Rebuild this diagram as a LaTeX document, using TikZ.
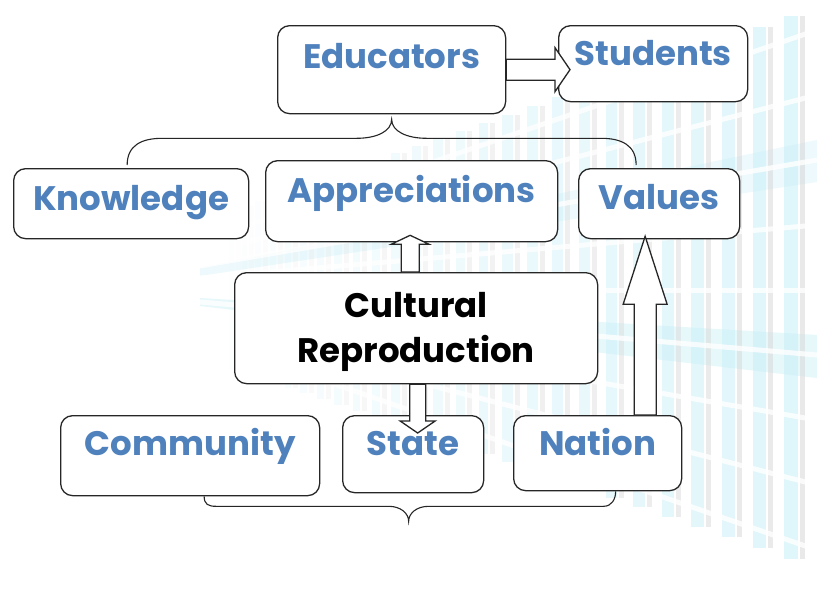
\documentclass[tikz,border=0pt]{standalone}
\usepackage{fontspec}
\setmainfont{Poppins}
\usetikzlibrary{calc}
\definecolor{txtblue}{HTML}{4F81BD}
\definecolor{bgcyan}{HTML}{C4EEF7}
\definecolor{bggray}{HTML}{D6D6D6}
\tikzset{
  box/.style={draw=black!85, line width=1.3pt, rounded corners=12pt, fill=white, inner sep=0pt,
    anchor=north west, text=txtblue, font=\fontsize{34}{45}\selectfont\bfseries},
  blockline/.style={draw=black!85, line width=1.3pt, fill=white, line join=miter},
  brace/.style={draw=black!85, line width=1.1pt},
}
% start, end, shaft half width, head half width, head length
\newcommand\blockarrow[5]{%
  \coordinate (hb) at ($(#2)!#5!(#1)$);
  \path[blockline] ($(#1)!#3!90:(#2)$) -- ($(hb)!#3!90:(#2)$) -- ($(hb)!#4!90:(#2)$) -- (#2)
    -- ($(hb)!#4!-90:(#2)$) -- ($(hb)!#3!-90:(#2)$) -- ($(#1)!#3!-90:(#2)$) -- cycle;
}
\begin{document}
\begin{tikzpicture}[x=1pt, y=-1pt]
	\fill[white] (0,0) rectangle (817,590);
	\useasboundingbox (0,0) rectangle (817,590);
	% background
	\fill[bgcyan, opacity=0.4] (200,298) -- (817,335) -- (817,378) -- (200,306) -- cycle;
	\fill[bgcyan, opacity=0.3] (200,268) -- (817,140) -- (817,182) -- (200,276) -- cycle;
	\foreach \i in {1,...,26}{
		\pgfmathsetmacro\xl{817-\i*33+\i*\i*0.4}
		\pgfmathsetmacro\op{0.55*(1-\i/27)}
		\pgfmathsetmacro\yt{290-285*(\xl/817)}
		\pgfmathsetmacro\yb{290+280*(\xl/817)}
		\pgfmathsetmacro\wd{14*(1-\i/40)}
		\fill[bgcyan, opacity=\op] (\xl,\yt) rectangle (\xl+\wd,\yb);
		\fill[bggray, opacity=\op] (\xl+\wd+2,\yt) rectangle (\xl+\wd+7,\yb);
	}
	\foreach \k in {-4,...,4}{
		\draw[white, line width=5pt, opacity=0.8] (200,{290+\k*12}) -- (817,{290+\k*65});
	}
	% boxes
	\node[box, minimum width=228pt, text height=43pt, text depth=45pt] (edu) at (277,25) {Educators};
	\node[box, minimum width=189pt, text height=40pt, text depth=36pt] (stu) at (558,25) {Students};
	\node[box, minimum width=235pt, text height=42pt, text depth=28pt] (know) at (13,168) {Knowledge};
	\node[box, minimum width=292pt, text height=42pt, text depth=39pt] (app) at (265,160) {Appreciations};
	\node[box, minimum width=161pt, text height=41pt, text depth=29pt] (val) at (578,168) {Values};
	\node[box, minimum width=363pt, text height=90pt, text depth=21pt, align=center, text=black] (cr) at (234,272) {Cultural\\Reproduction};
	\node[box, minimum width=259pt, text height=40pt, text depth=40pt] (com) at (60,415) {Community};
	\node[box, minimum width=141pt, text height=40pt, text depth=37pt] (sta) at (342,415) {State};
	\node[box, minimum width=168pt, text height=40pt, text depth=35pt] (nat) at (513,415) {Nation};
	% braces
	\coordinate (bl) at ([xshift=-4pt,yshift=3pt]know.north);
	\coordinate (bt) at ([yshift=-5pt]edu.south);
	\coordinate (br) at ([xshift=-23pt,yshift=3pt]val.north);
	\draw[brace] (bl) .. controls +(0,-20) and +(-20,0) .. ($(bl|-bt)+(35,19)$) -- ($(bt)+(-35,19)$)
		.. controls +(20,0) and +(0,12) .. (bt) .. controls +(0,12) and +(-20,0) .. ($(bt)+(35,19)$)
		-- ($(br|-bt)+(-35,19)$) .. controls +(20,0) and +(0,-20) .. (br);
	\coordinate (cl) at ([xshift=14pt]com.south);
	\coordinate (cb) at ([xshift=-4.5pt,yshift=-28pt]sta.south);
	\coordinate (cr2) at ([xshift=18pt]nat.south);
	\draw[brace] (cl) .. controls +(0,8) and +(-8,0) .. ($(cl|-cb)+(12,-15)$) -- ($(cb)+(-20,-15)$)
		.. controls +(12,0) and +(0,-8) .. (cb) .. controls +(0,-8) and +(-12,0) .. ($(cb)+(20,-15)$)
		-- ($(cr2|-cb)+(-12,-15)$) .. controls +(8,0) and +(0,8) .. (cr2);
	% block arrows
	\coordinate (a1) at (edu.east);
	\coordinate (a2) at ([xshift=12pt]edu.east -| stu.west);
	\blockarrow{a1}{a2}{10.5pt}{22pt}{15pt}
	\coordinate (b1) at ([xshift=-6pt]cr.north);
	\coordinate (b2) at ([xshift=-6pt,yshift=7pt]cr.north |- app.south);
	\blockarrow{b1}{b2}{9pt}{19pt}{9pt}
	\coordinate (c1) at ([xshift=1.5pt]cr.south);
	\coordinate (c2) at ([xshift=1.5pt,yshift=-18pt]cr.south |- sta.north);
	\blockarrow{c1}{c2}{8pt}{17.5pt}{12pt}
	\coordinate (d1) at ([xshift=-14pt]val.south |- nat.north);
	\coordinate (d2) at ([xshift=-14pt,yshift=3pt]val.south);
	\blockarrow{d1}{d2}{11pt}{22pt}{68pt}
\end{tikzpicture}
\end{document}
